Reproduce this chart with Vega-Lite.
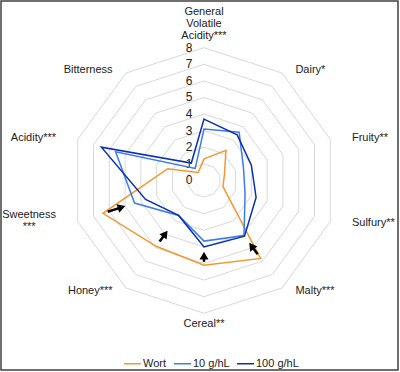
{
  "$schema": "https://vega.github.io/schema/vega-lite/v6.json",
  "width": 397,
  "height": 369,
  "autosize": {"type": "none"},
  "padding": {"left": 1, "top": 1, "right": 1, "bottom": 1},
  "background": "white",
  "config": {"view": {"stroke": "#404040", "strokeWidth": 1.5}, "font": "Liberation Sans"},
  "datasets": {
    "rings": [
      {"r": 1, "i": [0,1,2,3,4,5,6,7,8,9]},
      {"r": 2, "i": [0,1,2,3,4,5,6,7,8,9]},
      {"r": 3, "i": [0,1,2,3,4,5,6,7,8,9]},
      {"r": 4, "i": [0,1,2,3,4,5,6,7,8,9]},
      {"r": 5, "i": [0,1,2,3,4,5,6,7,8,9]},
      {"r": 6, "i": [0,1,2,3,4,5,6,7,8,9]},
      {"r": 7, "i": [0,1,2,3,4,5,6,7,8,9]},
      {"r": 8, "i": [0,1,2,3,4,5,6,7,8,9]}
    ],
    "ticks": [{"t": 0},{"t": 1},{"t": 2},{"t": 3},{"t": 4},{"t": 5},{"t": 6},{"t": 7},{"t": 8}],
    "cats": [
      {"i": 0, "label": "General\nVolatile\nAcidity***"},
      {"i": 1, "label": "Dairy*"},
      {"i": 2, "label": "Fruity**"},
      {"i": 3, "label": "Sulfury**"},
      {"i": 4, "label": "Malty***"},
      {"i": 5, "label": "Cereal**"},
      {"i": 6, "label": "Honey***"},
      {"i": 7, "label": "Sweetness\n***"},
      {"i": 8, "label": "Acidity***"},
      {"i": 9, "label": "Bitterness"}
    ],
    "scores": [
      {"s": "Wort", "i": 0, "v": 1.3},
      {"s": "Wort", "i": 1, "v": 2.25},
      {"s": "Wort", "i": 2, "v": 1.3},
      {"s": "Wort", "i": 3, "v": 1.2},
      {"s": "Wort", "i": 4, "v": 5.8},
      {"s": "Wort", "i": 5, "v": 5.1},
      {"s": "Wort", "i": 6, "v": 4.9},
      {"s": "Wort", "i": 7, "v": 6.4},
      {"s": "Wort", "i": 8, "v": 2.3},
      {"s": "Wort", "i": 9, "v": 0.6},
      {"s": "10 g/hL", "i": 0, "v": 3.1},
      {"s": "10 g/hL", "i": 1, "v": 3.6},
      {"s": "10 g/hL", "i": 2, "v": 2.5},
      {"s": "10 g/hL", "i": 3, "v": 2.6},
      {"s": "10 g/hL", "i": 4, "v": 4.1},
      {"s": "10 g/hL", "i": 5, "v": 3.65},
      {"s": "10 g/hL", "i": 6, "v": 2.6},
      {"s": "10 g/hL", "i": 7, "v": 4.4},
      {"s": "10 g/hL", "i": 8, "v": 5.6},
      {"s": "10 g/hL", "i": 9, "v": 0.9},
      {"s": "100 g/hL", "i": 0, "v": 3.7},
      {"s": "100 g/hL", "i": 1, "v": 3.4},
      {"s": "100 g/hL", "i": 2, "v": 3.0},
      {"s": "100 g/hL", "i": 3, "v": 3.3},
      {"s": "100 g/hL", "i": 4, "v": 4.15},
      {"s": "100 g/hL", "i": 5, "v": 4.0},
      {"s": "100 g/hL", "i": 6, "v": 2.6},
      {"s": "100 g/hL", "i": 7, "v": 3.7},
      {"s": "100 g/hL", "i": 8, "v": 6.5},
      {"s": "100 g/hL", "i": 9, "v": 1.3}
    ],
    "arrows": [
      {"i": 4, "from": 5.5, "to": 4.6},
      {"i": 5, "from": 4.9, "to": 4.25},
      {"i": 6, "from": 4.55, "to": 3.7},
      {"i": 7, "from": 6.1, "to": 4.95}
    ]
  },
  "encoding": {
    "x": {"field": "x", "type": "quantitative", "scale": {"domain": [-12.229, 11.687], "nice": false, "zero": false}, "axis": null},
    "y": {"field": "y", "type": "quantitative", "scale": {"domain": [-11.416, 10.813], "nice": false, "zero": false}, "axis": null}
  },
  "layer": [
    {
      "data": {"name": "rings"},
      "transform": [
        {"flatten": ["i"]},
        {"calculate": "datum.r*sin(datum.i*PI/5)", "as": "x"},
        {"calculate": "datum.r*cos(datum.i*PI/5)", "as": "y"}
      ],
      "mark": {"type": "line", "interpolate": "linear-closed", "stroke": "#d9d9d9", "strokeWidth": 1},
      "encoding": {
        "detail": {"field": "r", "type": "nominal"},
        "order": {"field": "i", "type": "quantitative"}
      }
    },
    {
      "data": {"name": "ticks"},
      "transform": [
        {"calculate": "0", "as": "x"},
        {"calculate": "datum.t", "as": "y"}
      ],
      "mark": {"type": "text", "dx": -15, "fontSize": 12, "color": "#222222", "align": "center", "baseline": "middle"},
      "encoding": {"text": {"field": "t", "type": "quantitative"}}
    },
    {
      "data": {"name": "scores"},
      "transform": [
        {"calculate": "datum.v*sin(datum.i*PI/5)", "as": "x"},
        {"calculate": "datum.v*cos(datum.i*PI/5)", "as": "y"}
      ],
      "mark": {"type": "line", "interpolate": "linear-closed"},
      "encoding": {
        "color": {
          "field": "s", "type": "nominal",
          "scale": {"domain": ["Wort", "10 g/hL", "100 g/hL"], "range": ["#F7962D", "#3D7BF2", "#0B2FB0"]},
          "legend": {
            "orient": "none", "legendX": 122, "legendY": 353, "direction": "horizontal",
            "title": null, "labelFontSize": 11, "labelFont": "Liberation Sans", "labelColor": "#222222",
            "symbolSize": 289, "symbolType": "stroke", "columnPadding": 4, "labelOffset": 1, "padding": 0
          }
        },
        "strokeWidth": {
          "field": "s", "type": "nominal",
          "scale": {"domain": ["Wort", "10 g/hL", "100 g/hL"], "range": [1.5, 1.5, 2.5]},
          "legend": {
            "orient": "none", "legendX": 122, "legendY": 353, "direction": "horizontal",
            "title": null, "labelFontSize": 11, "labelFont": "Liberation Sans", "labelColor": "#222222",
            "symbolSize": 289, "symbolType": "stroke", "columnPadding": 4, "labelOffset": 1, "padding": 0
          }
        },
        "order": {"field": "i", "type": "quantitative"}
      }
    },
    {
      "data": {"name": "arrows"},
      "transform": [
        {"calculate": "datum.i*PI/5", "as": "th"},
        {"calculate": "datum.from*sin(datum.th)", "as": "x"},
        {"calculate": "datum.from*cos(datum.th)", "as": "y"},
        {"calculate": "(datum.to+0.38)*sin(datum.th)", "as": "x2"},
        {"calculate": "(datum.to+0.38)*cos(datum.th)", "as": "y2"}
      ],
      "mark": {"type": "rule", "color": "#000000", "strokeWidth": 2.5},
      "encoding": {
        "x2": {"field": "x2"},
        "y2": {"field": "y2"}
      }
    },
    {
      "data": {"name": "arrows"},
      "transform": [
        {"calculate": "datum.i*PI/5", "as": "th"},
        {"calculate": "(datum.to+0.27)*sin(datum.th)", "as": "x"},
        {"calculate": "(datum.to+0.27)*cos(datum.th)", "as": "y"},
        {"calculate": "datum.i*36+180", "as": "ang"}
      ],
      "mark": {"type": "point", "shape": "triangle-up", "filled": true, "color": "#000000", "size": 80, "opacity": 1},
      "encoding": {
        "angle": {"field": "ang", "type": "quantitative", "scale": null}
      }
    },
    {
      "data": {"name": "cats"},
      "transform": [
        {"filter": "datum.i>=1 && datum.i<=4"},
        {"calculate": "9.37*sin(datum.i*PI/5)", "as": "x"},
        {"calculate": "8.25*cos(datum.i*PI/5)", "as": "y"}
      ],
      "mark": {"type": "text", "align": "left", "baseline": "middle", "fontSize": 11, "color": "#222222", "lineBreak": "\n", "lineHeight": 12},
      "encoding": {"text": {"field": "label"}}
    },
    {
      "data": {"name": "cats"},
      "transform": [
        {"filter": "datum.i==6 || datum.i==8 || datum.i==9"},
        {"calculate": "9.37*sin(datum.i*PI/5)", "as": "x"},
        {"calculate": "8.25*cos(datum.i*PI/5)", "as": "y"}
      ],
      "mark": {"type": "text", "align": "right", "baseline": "middle", "fontSize": 11, "color": "#222222", "lineBreak": "\n", "lineHeight": 12},
      "encoding": {"text": {"field": "label"}}
    },
    {
      "data": {"name": "cats"},
      "transform": [
        {"filter": "datum.i==7"},
        {"calculate": "9.37*sin(datum.i*PI/5)", "as": "x"},
        {"calculate": "6.73*cos(datum.i*PI/5)", "as": "y"}
      ],
      "mark": {"type": "text", "align": "center", "baseline": "middle", "dx": -27, "fontSize": 11, "color": "#222222", "lineBreak": "\n", "lineHeight": 12},
      "encoding": {"text": {"field": "label"}}
    },
    {
      "data": {"name": "cats"},
      "transform": [
        {"filter": "datum.i==0"},
        {"calculate": "0", "as": "x"},
        {"calculate": "10.17", "as": "y"}
      ],
      "mark": {"type": "text", "align": "center", "baseline": "middle", "fontSize": 11, "color": "#222222", "lineBreak": "\n", "lineHeight": 12},
      "encoding": {"text": {"field": "label"}}
    },
    {
      "data": {"name": "cats"},
      "transform": [
        {"filter": "datum.i==5"},
        {"calculate": "0", "as": "x"},
        {"calculate": "-8.64", "as": "y"}
      ],
      "mark": {"type": "text", "align": "center", "baseline": "middle", "fontSize": 11, "color": "#222222", "lineBreak": "\n", "lineHeight": 12},
      "encoding": {"text": {"field": "label"}}
    }
  ]
}
